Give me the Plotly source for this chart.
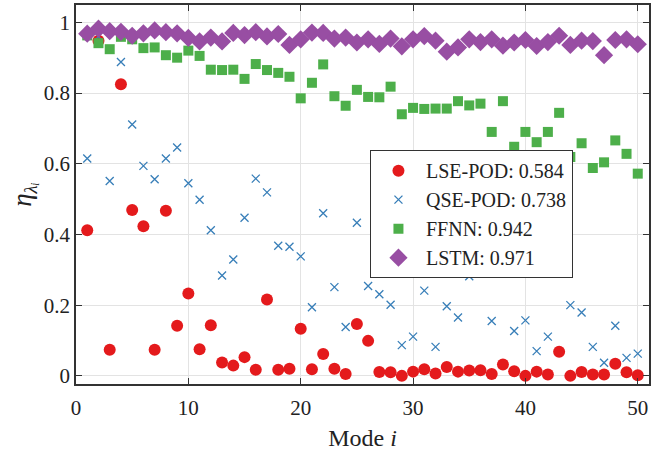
import plotly.graph_objects as go

modes = list(range(1, 51))

lse_pod = [0.412, 0.948, 0.074, 0.825, 0.469, 0.423, 0.074, 0.467, 0.142, 0.233,
           0.075, 0.143, 0.038, 0.029, 0.053, 0.017, 0.216, 0.017, 0.020, 0.133,
           0.019, 0.062, 0.020, 0.005, 0.147, 0.099, 0.011, 0.010, 0.000, 0.012,
           0.019, 0.007, 0.025, 0.012, 0.015, 0.016, 0.005, 0.032, 0.013, 0.000,
           0.012, 0.004, 0.068, 0.000, 0.011, 0.004, 0.004, 0.034, 0.010, 0.002]

qse_pod = [0.615, 0.960, 0.551, 0.888, 0.711, 0.594, 0.556, 0.615, 0.646, 0.545,
           0.498, 0.412, 0.284, 0.329, 0.447, 0.558, 0.519, 0.368, 0.365, 0.338,
           0.194, 0.460, 0.251, 0.138, 0.433, 0.254, 0.231, 0.201, 0.087, 0.111,
           0.241, 0.082, 0.197, 0.165, 0.282, 0.315, 0.155, 0.311, 0.127, 0.157,
           0.070, 0.111, 0.292, 0.200, 0.179, 0.082, 0.037, 0.142, 0.051, 0.063]

ffnn = [0.963, 0.941, 0.924, 0.959, 0.952, 0.927, 0.929, 0.907, 0.900, 0.920,
        0.905, 0.866, 0.865, 0.866, 0.840, 0.882, 0.865, 0.857, 0.846, 0.785,
        0.829, 0.881, 0.791, 0.764, 0.809, 0.789, 0.788, 0.818, 0.740, 0.758,
        0.755, 0.756, 0.756, 0.777, 0.765, 0.770, 0.690, 0.777, 0.648, 0.690,
        0.661, 0.690, 0.744, 0.619, 0.658, 0.588, 0.604, 0.666, 0.628, 0.572]

lstm = [0.968, 0.982, 0.975, 0.973, 0.962, 0.969, 0.977, 0.972, 0.969, 0.956,
        0.946, 0.957, 0.946, 0.970, 0.964, 0.972, 0.960, 0.967, 0.936, 0.952,
        0.971, 0.970, 0.954, 0.957, 0.943, 0.952, 0.939, 0.954, 0.932, 0.952,
        0.961, 0.948, 0.917, 0.929, 0.952, 0.944, 0.952, 0.934, 0.943, 0.950,
        0.933, 0.944, 0.962, 0.936, 0.948, 0.947, 0.907, 0.950, 0.952, 0.938]

names = ["LSE-POD: 0.584", "QSE-POD: 0.738", "FFNN: 0.942", "LSTM: 0.971"]
x_ticks = [0, 10, 20, 30, 40, 50]
y_ticks = [0, 0.2, 0.4, 0.6, 0.8, 1]
y_tick_text = ["0", "0.2", "0.4", "0.6", "0.8", "1"]

FONT = "Liberation Serif, Times New Roman, serif"

fig = go.Figure()
fig.add_trace(go.Scatter(x=modes, y=lse_pod, mode="markers", name=names[0],
                         marker=dict(symbol="circle", size=12, color="#e41a1c",
                                     line=dict(width=0))))
fig.add_trace(go.Scatter(x=modes, y=qse_pod, mode="markers", name=names[1],
                         marker=dict(symbol="x-thin", size=8, color="#377eb8",
                                     line=dict(width=1.3, color="#377eb8"))))
fig.add_trace(go.Scatter(x=modes, y=ffnn, mode="markers", name=names[2],
                         marker=dict(symbol="square", size=10, color="#4daf4a",
                                     line=dict(width=0))))
fig.add_trace(go.Scatter(x=modes, y=lstm, mode="markers", name=names[3],
                         marker=dict(symbol="diamond", size=14, color="#984ea3",
                                     line=dict(width=0))))

axis_common = dict(showline=True, linecolor="#333333", linewidth=1.5, mirror="ticks",
                   ticks="inside", ticklen=6, tickcolor="#333333", tickwidth=1.2,
                   showgrid=True, gridcolor="#e3e3e3", gridwidth=1, zeroline=False,
                   tickfont=dict(family=FONT, size=21, color="#222222"))

fig.update_layout(
    width=652, height=457,
    margin=dict(l=76, r=1, t=5, b=73),
    paper_bgcolor="white", plot_bgcolor="white",
    font=dict(family=FONT, color="#222222"),
    xaxis=dict(range=[0, 51], tickvals=x_ticks, ticklabelstandoff=4,
               title=dict(text="Mode <i>i</i>", font=dict(family=FONT, size=24), standoff=10),
               **axis_common),
    yaxis=dict(range=[-0.023, 1.049], tickvals=y_ticks, ticktext=y_tick_text,
               title=dict(text="<i>η</i><sub><i>λᵢ</i></sub>", font=dict(family=FONT, size=27), standoff=4),
               **axis_common),
    legend=dict(x=0.513, y=0.617, xanchor="left", yanchor="top",
                bgcolor="white", bordercolor="#333333", borderwidth=1,
                font=dict(family=FONT, size=20, color="#222222"),
                itemsizing="trace", itemwidth=45, tracegroupgap=0),
    showlegend=True,
)

fig.write_html("out.html")
